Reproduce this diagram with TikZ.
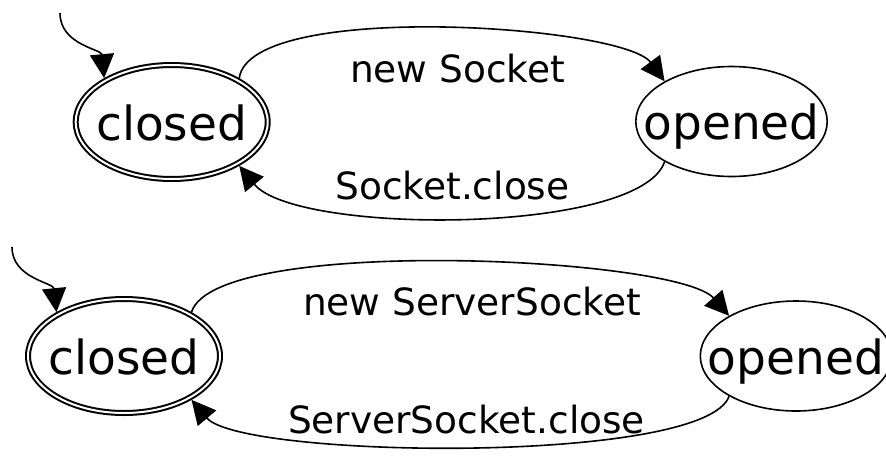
\documentclass[tikz,border=0pt]{standalone}
\usepackage{fontspec}
\setmainfont{DejaVu Sans}
\usetikzlibrary{arrows.meta,shapes.geometric}
\newcommand\statefont{\fontsize{47pt}{52pt}\selectfont}
\newcommand\edgefont{\fontsize{37.5pt}{42pt}\selectfont}
\begin{document}
\begin{tikzpicture}[x=1pt,y=-1pt,
  stbase/.style={ellipse, draw, inner sep=0pt, text height=36pt, text depth=0pt, font=\statefont},
  openst/.style={stbase, line width=1.6pt, minimum width=191.4pt, minimum height=110pt},
  closedst/.style={stbase, line width=2pt, double, double distance=2pt,
                   minimum width=192pt, minimum height=114pt, outer sep=3pt},
  trans/.style={line width=1.6pt, -{Triangle[length=24pt,width=24pt]}},
  lbl/.style={anchor=base, inner sep=0pt, font=\edgefont}]

% page
\path[fill=white,use as bounding box] (0,0) rectangle (886,456);

% ---- Socket ----
\node[closedst] (closedA) at (171.7,122) {\makebox[0pt]{closed}};
\node[openst]   (openedA) at (731.5,121.5) {\makebox[0pt]{opened}};
\coordinate (initA) at (60,13);

\draw[trans] (initA) .. controls (60,45) and (101.5,49) .. (closedA.147);
\draw[trans] (closedA.33) .. controls (250,0) and (623,25) .. (openedA.149);
\draw[trans] (openedA.211) .. controls (640,235) and (296,235.25) .. (closedA.-33);

\node[lbl] (newA)   at (457.5,82)  {new Socket};
\node[lbl] (closeA) at (452.5,199) {Socket.close};

% ---- ServerSocket ----
\node[closedst] (closedB) at (124,356) {\makebox[0pt]{closed}};
\node[openst]   (openedB) at (796,356) {\makebox[0pt]{opened}};
\coordinate (initB) at (12,247);

\draw[trans] (initB) .. controls (12,278.5) and (53.5,282.5) .. (closedB.147);
\draw[trans] (closedB.33) .. controls (215,235) and (677,256.5) .. (openedB.149);
\draw[trans] (openedB.211) .. controls (705,465) and (241,458.5) .. (closedB.-33);

\node[lbl] (newB)   at (472,315)   {new ServerSocket};
\node[lbl] (closeB) at (466.5,433) {ServerSocket.close};
\end{tikzpicture}
\end{document}
